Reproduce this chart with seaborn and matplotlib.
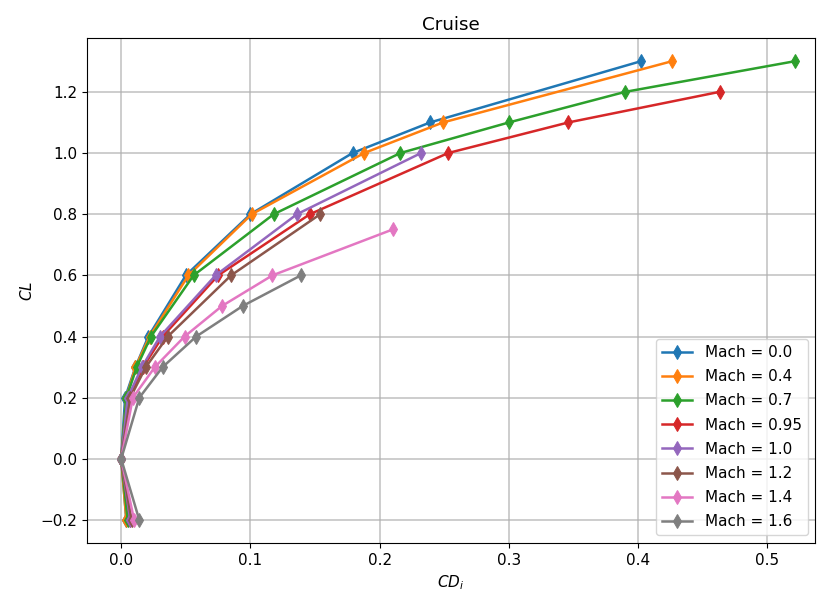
import matplotlib
matplotlib.use("Agg")
import matplotlib.pyplot as plt
import seaborn as sns
import pandas as pd

# Induced drag polars at cruise for a range of Mach numbers
mach_labels = ["Mach = 0.0", "Mach = 0.4", "Mach = 0.7", "Mach = 0.95",
               "Mach = 1.0", "Mach = 1.2", "Mach = 1.4", "Mach = 1.6"]

cl_m00 = [-0.2, 0.0, 0.2, 0.3, 0.4, 0.6, 0.8, 1.0, 1.1, 1.3]
cd_m00 = [0.004, 0.0, 0.003, 0.011, 0.021, 0.050, 0.100, 0.179, 0.239, 0.402]

cl_m04 = [-0.2, 0.0, 0.2, 0.3, 0.4, 0.6, 0.8, 1.0, 1.1, 1.3]
cd_m04 = [0.004, 0.0, 0.004, 0.011, 0.022, 0.052, 0.101, 0.188, 0.249, 0.426]

cl_m07 = [-0.2, 0.0, 0.2, 0.3, 0.4, 0.6, 0.8, 1.0, 1.1, 1.2, 1.3]
cd_m07 = [0.005, 0.0, 0.004, 0.012, 0.023, 0.056, 0.118, 0.216, 0.300, 0.390, 0.521]

cl_m095 = [-0.2, 0.0, 0.2, 0.3, 0.4, 0.6, 0.8, 1.0, 1.1, 1.2]
cd_m095 = [0.007, 0.0, 0.006, 0.017, 0.032, 0.075, 0.146, 0.253, 0.346, 0.463]

cl_m10 = [-0.2, 0.0, 0.2, 0.3, 0.4, 0.6, 0.8, 1.0]
cd_m10 = [0.007, 0.0, 0.005, 0.016, 0.030, 0.073, 0.136, 0.232]

cl_m12 = [-0.2, 0.0, 0.2, 0.3, 0.4, 0.6, 0.8]
cd_m12 = [0.008, 0.0, 0.007, 0.019, 0.036, 0.085, 0.154]

cl_m14 = [-0.2, 0.0, 0.2, 0.3, 0.4, 0.5, 0.6, 0.75]
cd_m14 = [0.010, 0.0, 0.009, 0.026, 0.049, 0.078, 0.117, 0.210]

cl_m16 = [-0.2, 0.0, 0.2, 0.3, 0.4, 0.5, 0.6]
cd_m16 = [0.014, 0.0, 0.014, 0.032, 0.058, 0.094, 0.139]

series_cl = [cl_m00, cl_m04, cl_m07, cl_m095, cl_m10, cl_m12, cl_m14, cl_m16]
series_cd = [cd_m00, cd_m04, cd_m07, cd_m095, cd_m10, cd_m12, cd_m14, cd_m16]

frames = []
for label, cl, cd in zip(mach_labels, series_cl, series_cd):
    frames.append(pd.DataFrame({"CDi": cd, "CL": cl, "Mach": label}))
df = pd.concat(frames, ignore_index=True)

palette = sns.color_palette("tab10", len(mach_labels))

plt.rcParams["font.size"] = 11

fig = plt.figure(figsize=(8.21, 5.96), dpi=100)
ax = fig.add_axes([0.1056, 0.0889, 0.8874, 0.8468])

for color, label in zip(palette, mach_labels):
    sub = df[df["Mach"] == label]
    sns.lineplot(data=sub, x="CDi", y="CL", sort=False, estimator=None,
                 color=color, marker="d", markersize=7.5, markeredgecolor=color,
                 linewidth=1.8, label=label, ax=ax)

ax.grid(True, color="#b0b0b0", linewidth=1.1, alpha=0.8)
ax.set_axisbelow(True)
ax.set_title("Cruise")
ax.set_xlabel("$CD_i$")
ax.set_ylabel("$CL$")
ax.set_xticks([0.0, 0.1, 0.2, 0.3, 0.4, 0.5])
ax.set_yticks([-0.2, 0.0, 0.2, 0.4, 0.6, 0.8, 1.0, 1.2])
ax.set_xlim(-0.0267, 0.537)
ax.set_ylim(-0.275, 1.375)
ax.legend(loc="lower right", labelspacing=0.6)

fig.savefig("out.png", dpi=100)
